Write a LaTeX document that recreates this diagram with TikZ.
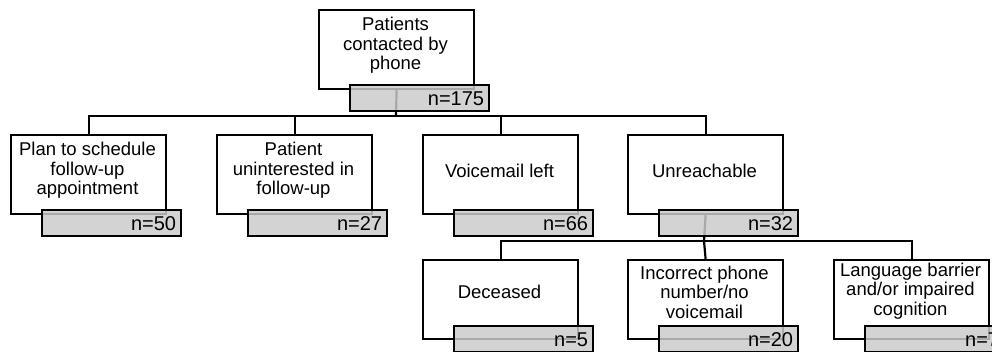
\documentclass[tikz,border=0pt]{standalone}
\usepackage{fontspec}
\setmainfont{Liberation Sans}
\definecolor{cntgray}{RGB}{202,202,202}

\begin{document}
\begin{tikzpicture}[x=1pt,y=-1pt,
	box/.style={draw,line width=2.2pt,minimum width=155pt,minimum height=79pt,anchor=north west,inner sep=0pt},
	txt/.style={align=center,inner sep=0pt,font=\fontsize{18.5}{19.5}\selectfont},
	count/.style={draw,line width=2.2pt,fill=cntgray,fill opacity=0.84,text opacity=1,minimum width=139pt,minimum height=26pt,anchor=north west,text width=129pt,align=right,inner xsep=5pt,inner ysep=0pt,font=\fontsize{20}{20}\selectfont},
	conn/.style={line width=2.2pt}]
		\useasboundingbox (0,0) rectangle (992,351);
		\clip (0,0) rectangle (992,351);
		% white boxes
		\node[box] (pat) at (318,9) {};
		\node[box] (plan) at (10,134) {};
		\node[box] (unint) at (216,134) {};
		\node[box] (vm) at (422,134) {};
		\node[box] (unr) at (627,134) {};
		\node[box] (dec) at (422,259) {};
		\node[box] (inc) at (627,259) {};
		\node[box] (lang) at (833,259) {};
		% box texts
		\node[txt] (pat-t) at (395.5,45.5) {Patients\\contacted by\\phone};
		\node[txt] (plan-t) at (87.5,170.5) {Plan to schedule\\follow-up\\appointment};
		\node[txt] (unint-t) at (293.5,170.5) {Patient\\uninterested in\\follow-up};
		\node[txt] (vm-t) at (499.5,170.5) {Voicemail left};
		\node[txt] (unr-t) at (704.5,170.5) {Unreachable};
		\node[txt] (dec-t) at (499.5,292) {Deceased};
		\node[txt] (inc-t) at (704.5,292) {Incorrect phone\\number/no\\voicemail};
		\node[txt] (lang-t) at (910.5,291) {Language barrier\\and/or impaired\\cognition};
		% connectors
		\coordinate (split1) at (396,116);
		\coordinate (split2) at (704,241);
		\draw[conn] (pat.south) -- (split1);
		\draw[conn] (plan.north) |- (split1) -| (unr.north);
		\draw[conn] (unint.north) -- (unint.north |- split1);
		\draw[conn] (vm.north) -- (vm.north |- split1);
		\draw[conn] (unr.south) -- (split2);
		\draw[conn] (dec.north) |- (split2) -| (lang.north);
		\draw[conn] (inc.north) -- (split2);
		% counts
		\node[count] (pat-n) at ([shift={(31,-6)}]pat.south west) {n=175};
		\node[count] (plan-n) at ([shift={(31,-6)}]plan.south west) {n=50};
		\node[count] (unint-n) at ([shift={(31,-6)}]unint.south west) {n=27};
		\node[count] (vm-n) at ([shift={(31,-6)}]vm.south west) {n=66};
		\node[count] (unr-n) at ([shift={(31,-6)}]unr.south west) {n=32};
		\node[count] (dec-n) at ([shift={(31,-15)}]dec.south west) {n=5};
		\node[count] (inc-n) at ([shift={(31,-15)}]inc.south west) {n=20};
		\node[count] (lang-n) at ([shift={(31,-15)}]lang.south west) {n=7};
	\end{tikzpicture}
\end{document}
